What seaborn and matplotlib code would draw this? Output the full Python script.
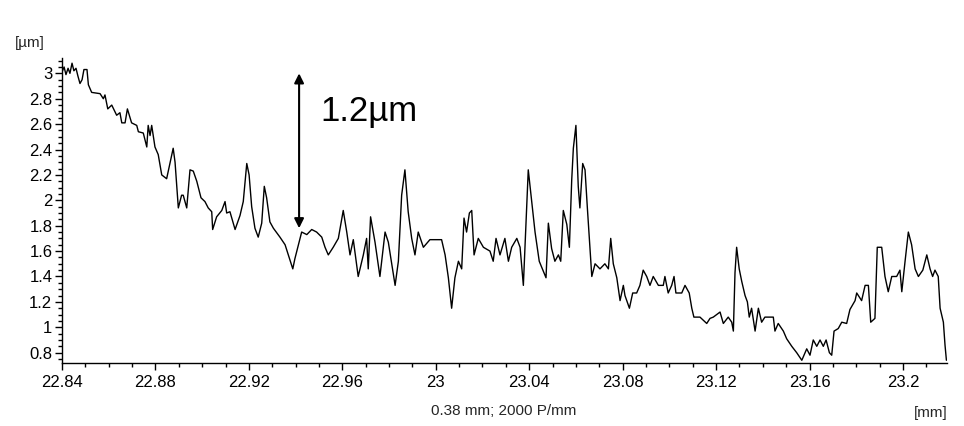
import matplotlib
matplotlib.use("Agg")
import matplotlib.pyplot as plt
from matplotlib.ticker import MultipleLocator, FuncFormatter
import seaborn as sns
import pandas as pd

# Surface profile: position along the scan [mm] and height [µm]
position_mm = [
    22.8400, 22.8409, 22.8417, 22.8426, 22.8434, 22.8443, 22.8451, 22.8460, 22.8468, 22.8477,
    22.8486, 22.8494, 22.8507, 22.8513, 22.8527, 22.8563, 22.8577, 22.8584, 22.8596, 22.8613,
    22.8634, 22.8648, 22.8656, 22.8670, 22.8680, 22.8698, 22.8720, 22.8727, 22.8748, 22.8763,
    22.8769, 22.8777, 22.8784, 22.8798, 22.8812, 22.8827, 22.8848, 22.8862, 22.8876, 22.8884,
    22.8898, 22.8912, 22.8919, 22.8934, 22.8948, 22.8962, 22.8977, 22.8995, 22.9012, 22.9026,
    22.9041, 22.9045, 22.9062, 22.9084, 22.9098, 22.9105, 22.9119, 22.9141, 22.9162, 22.9176,
    22.9191, 22.9201, 22.9212, 22.9226, 22.9240, 22.9255, 22.9266, 22.9276, 22.9290, 22.9305,
    22.9333, 22.9355, 22.9369, 22.9388, 22.9397, 22.9412, 22.9426, 22.9448, 22.9469, 22.9490,
    22.9512, 22.9526, 22.9540, 22.9561, 22.9583, 22.9604, 22.9619, 22.9633, 22.9647, 22.9668,
    22.9690, 22.9704, 22.9711, 22.9721, 22.9740, 22.9761, 22.9783, 22.9797, 22.9826, 22.9840,
    22.9854, 22.9868, 22.9882, 22.9897, 22.9911, 22.9925, 22.9947, 22.9975, 23.0025, 23.0040,
    23.0054, 23.0068, 23.0082, 23.0097, 23.0111, 23.0121, 23.0132, 23.0144, 23.0154, 23.0164,
    23.0182, 23.0204, 23.0232, 23.0246, 23.0258, 23.0275, 23.0296, 23.0311, 23.0325, 23.0347,
    23.0361, 23.0375, 23.0386, 23.0396, 23.0411, 23.0425, 23.0443, 23.0472, 23.0482, 23.0496,
    23.0510, 23.0525, 23.0535, 23.0546, 23.0561, 23.0572, 23.0582, 23.0589, 23.0600, 23.0610,
    23.0617, 23.0629, 23.0639, 23.0649, 23.0668, 23.0682, 23.0703, 23.0724, 23.0739, 23.0749,
    23.0760, 23.0775, 23.0789, 23.0803, 23.0810, 23.0829, 23.0843, 23.0860, 23.0874, 23.0888,
    23.0903, 23.0917, 23.0931, 23.0953, 23.0974, 23.0981, 23.0995, 23.1010, 23.1020, 23.1028,
    23.1053, 23.1067, 23.1085, 23.1096, 23.1105, 23.1131, 23.1160, 23.1174, 23.1188, 23.1217,
    23.1231, 23.1252, 23.1267, 23.1274, 23.1281, 23.1288, 23.1299, 23.1310, 23.1324, 23.1334,
    23.1342, 23.1352, 23.1367, 23.1381, 23.1395, 23.1409, 23.1445, 23.1452, 23.1466, 23.1488,
    23.1502, 23.1524, 23.1545, 23.1567, 23.1581, 23.1588, 23.1602, 23.1616, 23.1631, 23.1645,
    23.1659, 23.1671, 23.1685, 23.1695, 23.1705, 23.1723, 23.1738, 23.1759, 23.1773, 23.1795,
    23.1802, 23.1823, 23.1838, 23.1852, 23.1862, 23.1880, 23.1890, 23.1909, 23.1923, 23.1937,
    23.1952, 23.1973, 23.1987, 23.1995, 23.2009, 23.2023, 23.2037, 23.2052, 23.2066, 23.2085,
    23.2102, 23.2116, 23.2127, 23.2137, 23.2151, 23.2159, 23.2173, 23.2180, 23.2186,
]

height_um = [
    3.01, 3.05, 2.99, 3.04, 3.00, 3.08, 3.02, 3.04, 2.98, 2.92,
    2.95, 3.03, 3.03, 2.91, 2.85, 2.84, 2.80, 2.83, 2.72, 2.75,
    2.67, 2.69, 2.61, 2.61, 2.72, 2.61, 2.59, 2.54, 2.53, 2.42,
    2.59, 2.51, 2.59, 2.42, 2.36, 2.20, 2.17, 2.29, 2.41, 2.30,
    1.94, 2.04, 2.04, 1.94, 2.24, 2.23, 2.15, 2.02, 1.99, 1.94,
    1.91, 1.77, 1.87, 1.92, 1.99, 1.90, 1.91, 1.77, 1.88, 1.99,
    2.29, 2.20, 1.95, 1.78, 1.71, 1.82, 2.11, 2.02, 1.83, 1.78,
    1.71, 1.65, 1.57, 1.46, 1.54, 1.65, 1.75, 1.73, 1.77, 1.75,
    1.71, 1.63, 1.57, 1.63, 1.70, 1.92, 1.75, 1.57, 1.69, 1.40,
    1.57, 1.70, 1.46, 1.87, 1.67, 1.40, 1.75, 1.67, 1.33, 1.52,
    2.04, 2.24, 1.91, 1.70, 1.57, 1.75, 1.63, 1.69, 1.69, 1.57,
    1.39, 1.15, 1.39, 1.52, 1.46, 1.86, 1.75, 1.90, 1.92, 1.57,
    1.70, 1.63, 1.60, 1.52, 1.70, 1.57, 1.70, 1.52, 1.63, 1.70,
    1.63, 1.33, 1.81, 2.24, 1.99, 1.75, 1.52, 1.39, 1.82, 1.62,
    1.52, 1.57, 1.52, 1.92, 1.81, 1.63, 2.16, 2.41, 2.59, 2.11,
    1.94, 2.29, 2.24, 1.94, 1.40, 1.50, 1.46, 1.50, 1.46, 1.70,
    1.50, 1.39, 1.21, 1.33, 1.25, 1.15, 1.27, 1.27, 1.33, 1.45,
    1.40, 1.33, 1.40, 1.33, 1.33, 1.40, 1.27, 1.33, 1.40, 1.27,
    1.27, 1.33, 1.27, 1.15, 1.08, 1.08, 1.03, 1.07, 1.08, 1.12,
    1.03, 1.08, 1.04, 0.97, 1.43, 1.63, 1.46, 1.36, 1.25, 1.20,
    1.08, 1.15, 0.97, 1.15, 1.04, 1.08, 1.08, 0.97, 1.03, 0.97,
    0.91, 0.85, 0.80, 0.74, 0.80, 0.83, 0.78, 0.90, 0.85, 0.90,
    0.85, 0.90, 0.80, 0.78, 0.97, 0.99, 1.04, 1.03, 1.14, 1.21,
    1.27, 1.21, 1.33, 1.33, 1.04, 1.07, 1.63, 1.63, 1.40, 1.28,
    1.40, 1.40, 1.45, 1.28, 1.52, 1.75, 1.65, 1.46, 1.40, 1.45,
    1.57, 1.46, 1.40, 1.45, 1.40, 1.15, 1.04, 0.86, 0.74,
]

x_major_ticks = [22.84, 22.88, 22.92, 22.96, 23.00, 23.04, 23.08, 23.12, 23.16, 23.20]
y_major_ticks = [0.8, 1.0, 1.2, 1.4, 1.6, 1.8, 2.0, 2.2, 2.4, 2.6, 2.8, 3.0]

# Step height marked on the profile
step_bottom_um = 1.78
step_top_um = 3.00
step_at_mm = 22.9415
step_label = "1.2µm"

profile = pd.DataFrame({"position": position_mm, "height": height_um})

sns.set_theme(style="white")
plt.rcParams["font.family"] = ["Liberation Sans", "DejaVu Sans"]

fig = plt.figure(figsize=(9.64, 4.26), dpi=100)
ax = fig.add_axes([0.0643, 0.1486, 0.9177, 0.7150])

sns.lineplot(data=profile, x="position", y="height", color="black",
             linewidth=1.0, estimator=None, sort=False, ax=ax)

ax.set_xlim(22.84, 23.2187)
ax.set_ylim(0.721, 3.12)

ax.set_xticks(x_major_ticks)
ax.set_yticks(y_major_ticks)
ax.xaxis.set_minor_locator(MultipleLocator(0.01))
ax.yaxis.set_minor_locator(MultipleLocator(0.05))
fmt = FuncFormatter(lambda v, _: f"{v:g}")
ax.xaxis.set_major_formatter(fmt)
ax.yaxis.set_major_formatter(fmt)

ax.tick_params(axis="both", which="major", direction="out", length=5, width=1,
               color="black", labelsize=12, labelcolor="black")
ax.tick_params(axis="both", which="minor", direction="out", length=3, width=1,
               color="black")
ax.tick_params(axis="x", which="both", bottom=True, pad=4)
ax.tick_params(axis="y", which="both", left=True, pad=2)

for side in ("top", "right"):
    ax.spines[side].set_visible(False)
for side in ("left", "bottom"):
    ax.spines[side].set_color("black")
    ax.spines[side].set_linewidth(1.0)

ax.set_xlabel("")
ax.set_ylabel("")

# Step height arrow and its label
ax.annotate("", xy=(step_at_mm, step_top_um), xytext=(step_at_mm, step_bottom_um),
            arrowprops=dict(arrowstyle="<|-|>", color="black", lw=1.5,
                            mutation_scale=14, shrinkA=0, shrinkB=0))
ax.text(step_at_mm + 0.009, 2.70, step_label, fontsize=25, color="black",
        ha="left", va="center")

# Axis units and scan info
fig.text(15 / 964, 1 - 43 / 426, "[µm]", fontsize=11, ha="left", va="center")
fig.text(948 / 964, 1 - 413 / 426, "[mm]", fontsize=11, ha="right", va="center")
fig.text(504 / 964, 1 - 411 / 426, "0.38 mm; 2000 P/mm", fontsize=11,
         ha="center", va="center")

fig.savefig("out.png", dpi=100, facecolor="white")
